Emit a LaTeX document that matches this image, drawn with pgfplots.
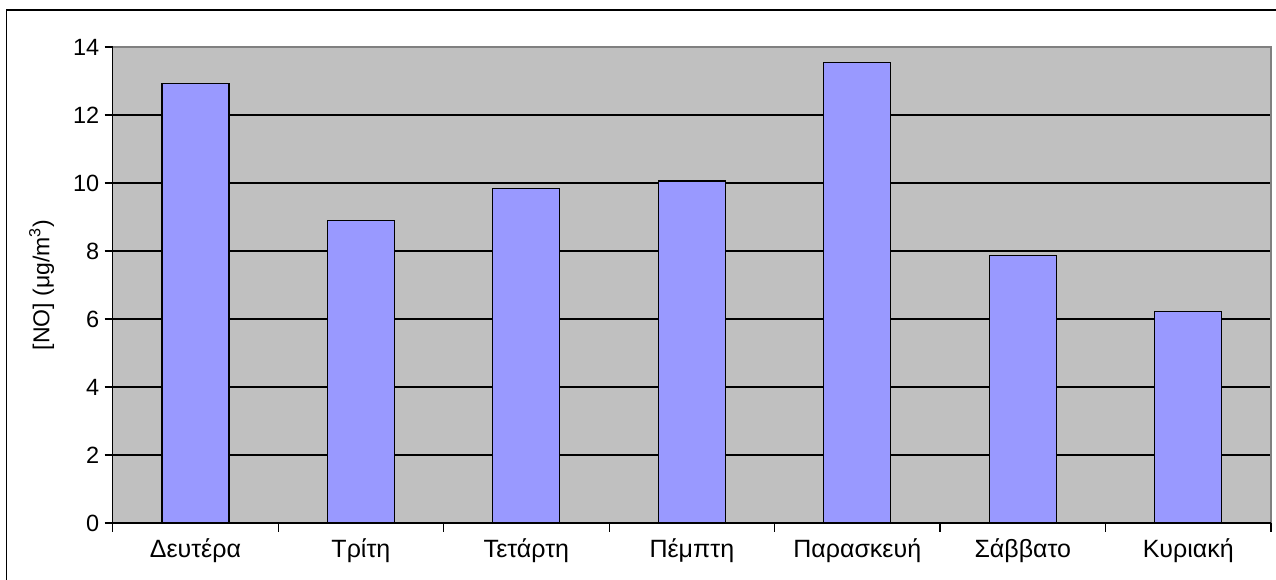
\documentclass[border=0pt]{standalone}
\usepackage{pgfplots}
\pgfplotsset{compat=1.18}
\usepackage{fontspec}
\setmainfont{Liberation Sans}
\definecolor{plotbg}{HTML}{C0C0C0}
\definecolor{barc}{HTML}{9999FF}
\definecolor{frame}{HTML}{808080}
\begin{document}
\begin{tikzpicture}[x=1pt,y=1pt]
\path[use as bounding box, clip] (0,0) rectangle (1276,580);
\draw[line width=1.5pt] (6.5,-20) -- (6.5,570) -- (1300,570);
\begin{axis}[
  at={(112.7pt,57pt)}, anchor=south west,
  scale only axis, width=1158.3pt, height=476pt,
  xmin=-0.5, xmax=6.5, ymin=0, ymax=14,
  ytick={0,2,...,14},
  xtick={0,...,6},
  xticklabels={Δευτέρα,Τρίτη,Τετάρτη,Πέμπτη,Παρασκευή,Σάββατο,Κυριακή},
  minor xtick={-0.5,0.5,...,6.5},
  major x tick style={draw=none},
  minor x tick style={black, line width=1.2pt},
  minor tick length=9pt,
  major tick length=8pt,
  y tick style={black, line width=1.2pt},
  tick align=outside,
  xtick pos=bottom, ytick pos=left,
  ymajorgrids,
  grid style={black, line width=1.2pt},
  axis line style={draw=none},
  axis background/.style={fill=plotbg},
  yticklabel style={font=\fontsize{23.5}{26}\selectfont, xshift=-2pt},
  xticklabel style={font=\fontsize{25}{28}\selectfont, yshift=-4pt},
  /pgf/number format/assume math mode=true,
  ylabel={[NO] (μg/m\textsuperscript{3})},
  every axis y label/.style={at={(ticklabel cs:0.5)}, rotate=90, anchor=south, yshift=12pt, font=\fontsize{23}{26}\selectfont},
  ybar, bar width=67pt,
  clip=false,
]
\addplot[fill=barc, draw=black, line width=1.2pt] coordinates {
(0,12.93) (1,8.89) (2,9.83) (3,10.06) (4,13.55) (5,7.86) (6,6.21)};
\draw[frame, line width=1.5pt] (rel axis cs:0,1) -- (rel axis cs:1,1) -- (rel axis cs:1,0);
\draw[black, line width=1.5pt] (rel axis cs:0,1) -- (rel axis cs:0,0) -- (rel axis cs:1,0);
\end{axis}
\end{tikzpicture}
\end{document}
